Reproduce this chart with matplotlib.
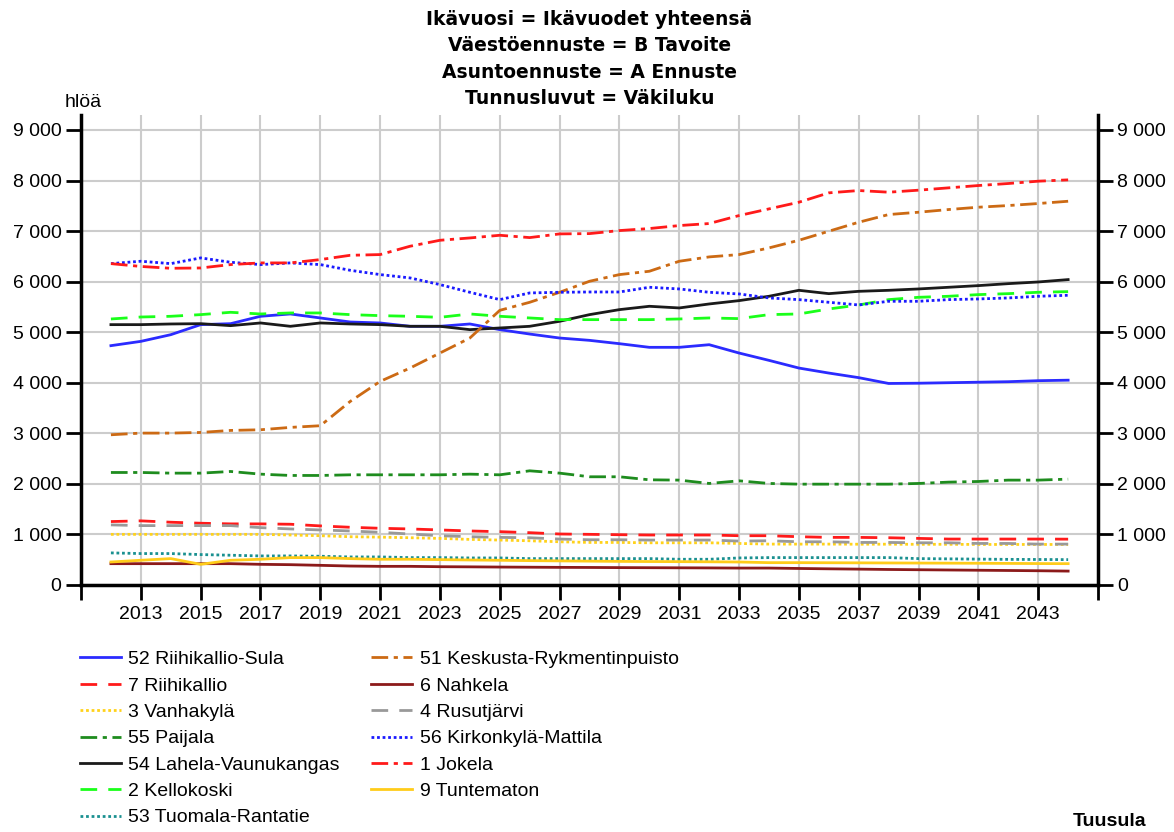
import matplotlib.pyplot as plt
import matplotlib.ticker as mticker
import numpy as np

plt.rcParams['font.family'] = ['Liberation Sans', 'DejaVu Sans']

years = list(range(2012, 2045))

riihikallio_sula = [4733, 4818, 4950, 5149, 5168, 5314, 5360, 5281, 5201, 5182, 5116, 5116, 5162, 5050,
                    4963, 4884, 4838, 4772, 4700, 4700, 4752, 4587, 4442, 4290, 4191, 4100, 3985, 3990,
                    4000, 4010, 4020, 4040, 4050]
riihikallio = [1253, 1267, 1240, 1220, 1207, 1207, 1200, 1167, 1140, 1120, 1107, 1087, 1067, 1053,
               1033, 1007, 1000, 993, 987, 987, 987, 973, 973, 953, 940, 940, 933, 920, 907, 907, 907,
               907, 905]
vanhakyla = [1000, 1000, 1000, 1000, 1000, 1000, 987, 973, 953, 945, 933, 920, 900, 887, 873, 853,
             840, 840, 833, 833, 833, 820, 807, 807, 807, 805, 805, 803, 803, 800, 800, 800, 800]
paijala = [2224, 2224, 2211, 2211, 2244, 2191, 2165, 2165, 2178, 2178, 2178, 2178, 2191, 2178, 2257,
           2211, 2139, 2139, 2079, 2073, 2007, 2059, 2007, 1993, 1993, 1993, 1993, 2007, 2033, 2046,
           2073, 2073, 2092]
lahela = [5149, 5149, 5162, 5168, 5129, 5182, 5116, 5182, 5162, 5149, 5116, 5116, 5050, 5083, 5116,
          5215, 5347, 5446, 5512, 5479, 5558, 5624, 5710, 5828, 5762, 5808, 5828, 5855, 5888, 5921,
          5960, 5993, 6040]
kellokoski = [5261, 5300, 5314, 5347, 5393, 5360, 5380, 5380, 5347, 5327, 5314, 5294, 5360, 5314,
              5281, 5248, 5248, 5248, 5248, 5261, 5281, 5268, 5347, 5360, 5459, 5538, 5644, 5690,
              5710, 5743, 5762, 5789, 5802]
tuomala = [633, 620, 620, 600, 587, 573, 573, 567, 553, 553, 540, 540, 533, 533, 520, 520, 520, 520,
           520, 507, 507, 533, 540, 540, 540, 540, 540, 520, 515, 510, 505, 503, 500]
keskusta = [2970, 3003, 3003, 3016, 3056, 3069, 3116, 3149, 3630, 4026, 4290, 4587, 4884, 5432,
            5591, 5789, 6007, 6139, 6205, 6403, 6489, 6535, 6667, 6818, 6997, 7175, 7327, 7373, 7426,
            7472, 7505, 7545, 7590]
nahkela = [420, 420, 420, 420, 420, 407, 400, 387, 373, 367, 367, 360, 357, 353, 350, 347, 345, 342,
           340, 338, 336, 333, 333, 325, 318, 312, 305, 300, 295, 290, 285, 280, 273]
rusutjarvi = [1187, 1173, 1173, 1173, 1173, 1133, 1107, 1087, 1067, 1040, 1007, 973, 953, 940, 933,
              907, 893, 893, 887, 887, 887, 867, 873, 853, 853, 840, 840, 833, 833, 820, 820, 807, 807]
kirkonkyla = [6356, 6403, 6356, 6469, 6383, 6337, 6370, 6337, 6224, 6139, 6073, 5941, 5789, 5644,
              5776, 5789, 5795, 5795, 5888, 5855, 5789, 5756, 5677, 5644, 5591, 5538, 5611, 5611,
              5644, 5657, 5677, 5710, 5730]
jokela = [6356, 6300, 6264, 6270, 6337, 6370, 6370, 6436, 6521, 6535, 6700, 6818, 6864, 6917, 6871,
          6944, 6950, 7010, 7050, 7109, 7149, 7307, 7439, 7571, 7756, 7802, 7769, 7809, 7855, 7901,
          7941, 7987, 8013]
tuntematon = [453, 487, 520, 407, 487, 507, 540, 540, 520, 507, 507, 500, 493, 487, 480, 475, 470,
              465, 462, 460, 457, 453, 440, 440, 438, 436, 434, 432, 430, 428, 425, 422, 420]

fig = plt.figure(figsize=(11.74, 8.32), dpi=100)
ax = fig.add_axes([0.069, 0.297, 0.8663, 0.565])

dashed = (0, (6, 4))
dashdot = (0, (6, 2, 1.5, 2))
dotted = (0, (1, 1))

series = [
    ("52 Riihikallio-Sula", riihikallio_sula, "#2b2bff", "-"),
    ("7 Riihikallio", riihikallio, "#ff1a1a", dashed),
    ("3 Vanhakylä", vanhakyla, "#ffd21a", dotted),
    ("55 Paijala", paijala, "#1e8c1e", dashdot),
    ("54 Lahela-Vaunukangas", lahela, "#1a1a1a", "-"),
    ("2 Kellokoski", kellokoski, "#1aff1a", dashed),
    ("53 Tuomala-Rantatie", tuomala, "#1a9090", dotted),
    ("51 Keskusta-Rykmentinpuisto", keskusta, "#cc6a14", dashdot),
    ("6 Nahkela", nahkela, "#8c1a1a", "-"),
    ("4 Rusutjärvi", rusutjarvi, "#999999", dashed),
    ("56 Kirkonkylä-Mattila", kirkonkyla, "#1a1aff", dotted),
    ("1 Jokela", jokela, "#ff1a1a", dashdot),
    ("9 Tuntematon", tuntematon, "#ffcc1a", "-"),
]

for name, vals, col, ls in series:
    ax.plot(years, vals, color=col, linestyle=ls, linewidth=2, label=name)

ax.set_xlim(2011, 2045)
ax.set_ylim(0, 9300)
ax.set_xticks(range(2013, 2045, 2))
ax.set_xticks([2011, 2045], minor=True)
ax.set_yticks(range(0, 9001, 1000))
ax.yaxis.set_major_formatter(mticker.FuncFormatter(lambda v, p: f"{int(v):,}".replace(",", " ")))
ax.grid(True, color="#cccccc", linewidth=1.5)
ax.set_axisbelow(True)

for s in ["left", "right", "bottom"]:
    ax.spines[s].set_linewidth(2.5)
ax.spines["top"].set_visible(False)

ax.tick_params(axis="y", which="major", left=True, right=True, labelleft=True, labelright=True,
               direction="out", length=11, width=2, labelsize=14, pad=3)
ax.tick_params(axis="x", which="both", direction="out", length=11, width=2, labelsize=14, pad=4)

title = ("Ikävuosi = Ikävuodet yhteensä\nVäestöennuste = B Tavoite\n"
         "Asuntoennuste = A Ennuste\nTunnusluvut = Väkiluku")
fig.text(0.502, 0.988, title, ha="center", va="top", fontsize=13.5, fontweight="bold",
         linespacing=1.5, family=["DejaVu Sans"])
fig.text(0.071, 0.877, "hlöä", ha="center", va="center", fontsize=14)
fig.text(0.945, 0.002, "Tuusula", ha="center", va="bottom", fontsize=14, fontweight="bold")

fig.legend(loc="upper left", bbox_to_anchor=(0.068, 0.218), ncol=2, frameon=False,
           fontsize=14, handlelength=2.1, columnspacing=1.6, labelspacing=0.45,
           handletextpad=0.4, borderpad=0, borderaxespad=0)

fig.savefig("out.png", dpi=100)
